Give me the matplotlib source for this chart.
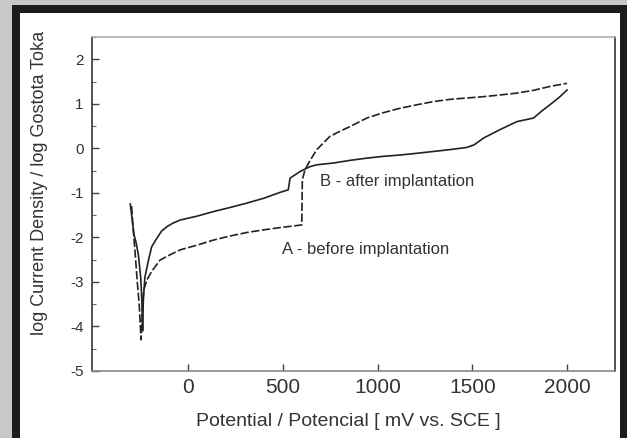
import matplotlib
matplotlib.use("Agg")
import matplotlib.pyplot as plt
from matplotlib.patches import Rectangle
from matplotlib.ticker import MultipleLocator

plt.rcParams['font.family'] = ['Liberation Sans', 'DejaVu Sans']
plt.rcParams['axes.unicode_minus'] = False

# Curve A - before implantation (mV vs SCE, log current density)
a_potential = [-298, -290, -282, -275, -268, -258, -248, -240, -235, -218, -190, -148,
               -100, -42, 50, 134, 220, 310, 400, 485, 600, 603, 617, 640, 679, 749,
               800, 855, 943, 1030, 1119, 1210, 1295, 1383, 1470, 1559, 1650, 1735,
               1820, 1910, 2000]
a_logi = [-1.3, -1.8, -2.2, -2.6, -3.0, -3.5, -4.3, -3.6, -3.2, -2.96, -2.75, -2.51,
          -2.40, -2.28, -2.17, -2.06, -1.97, -1.89, -1.83, -1.78, -1.72, -0.71, -0.48,
          -0.3, -0.03, 0.27, 0.38, 0.49, 0.68, 0.80, 0.90, 0.98, 1.05, 1.10, 1.13,
          1.16, 1.20, 1.24, 1.30, 1.39, 1.46]

# Curve B - after implantation
b_potential = [-305, -295, -285, -275, -262, -250, -244, -240, -236, -228, -209, -192,
               -165, -140, -112, -80, -42, 50, 134, 220, 310, 400, 485, 529, 538, 591,
               644, 679, 767, 855, 943, 1030, 1119, 1210, 1295, 1380, 1471, 1510, 1559,
               1646, 1735, 1790, 1823, 1870, 1910, 1960, 2000]
b_logi = [-1.25, -1.6, -1.95, -2.1, -2.4, -2.9, -3.4, -4.1, -3.4, -2.9, -2.51, -2.21,
          -2.02, -1.86, -1.76, -1.68, -1.61, -1.52, -1.42, -1.33, -1.23, -1.12, -0.99,
          -0.93, -0.67, -0.52, -0.41, -0.37, -0.33, -0.27, -0.22, -0.18, -0.15, -0.11,
          -0.07, -0.03, 0.02, 0.08, 0.23, 0.42, 0.60, 0.65, 0.68, 0.85, 0.98, 1.15, 1.31]

x_ticks = [0, 500, 1000, 1500, 2000]
x_ticklabels = ['0', '500', '1000', '1500', '2000']
y_ticks = [-5, -4, -3, -2, -1, 0, 1, 2]
y_ticklabels = ['-5', '-4', '-3', '-2', '-1', '0', '1', '2']

label_a = "A - before implantation"
label_b = "B - after implantation"
x_label = "Potential / Potencial [ mV vs. SCE ]"
y_label = "log Current Density / log Gostota Toka"

W, H = 627, 438
fig = plt.figure(figsize=(W / 100, H / 100), dpi=100)
fig.patch.set_facecolor('#c8c8c8')
fig.patches.append(Rectangle((12 / W, -0.1), 1.2, 1.1 - 5 / H, transform=fig.transFigure,
                             facecolor='#1c1c1c', edgecolor='none', zorder=-10))
fig.patches.append(Rectangle((20 / W, -0.1), 600 / W, 1.1 - 13 / H, transform=fig.transFigure,
                             facecolor='white', edgecolor='none', zorder=-9))

ax = fig.add_axes([92 / W, (H - 371) / H, (615 - 92) / W, (371 - 37) / H])
ax.set_facecolor('white')

line_col = '#222222'
ax.plot(a_potential, a_logi, color=line_col, lw=1.2, linestyle=(0, (5, 1.5)))
ax.plot(b_potential, b_logi, color=line_col, lw=1.2)

ax.set_xlim(-507, 2253)
ax.set_ylim(-5, 2.5)
ax.set_xticks(x_ticks)
ax.set_xticklabels(x_ticklabels, fontsize=15, color='#333333')
ax.set_yticks(y_ticks)
ax.set_yticklabels(y_ticklabels, fontsize=11, color='#333333')
ax.yaxis.set_minor_locator(MultipleLocator(0.5))
ax.tick_params(axis='both', which='major', direction='in', length=5, width=1, color='#444444')
ax.tick_params(axis='y', which='minor', direction='in', length=3, width=0.8, color='#666666')
ax.tick_params(axis='x', which='major', pad=5)
ax.tick_params(axis='y', which='major', pad=6)

ax.spines['left'].set_color('#333333')
ax.spines['right'].set_color('#333333')
ax.spines['top'].set_color('#b0b0b0')
ax.spines['bottom'].set_color('#888888')
for s in ax.spines.values():
    s.set_linewidth(1.2)

ax.set_xlabel(x_label, fontsize=14, color='#333333')
ax.xaxis.set_label_coords((348 - 92) / 523, (371 - 422) / 334)
ax.xaxis.label.set_va('center')
ax.set_ylabel(y_label, fontsize=13, color='#333333')
ax.yaxis.set_label_coords((40 - 92) / 523, (371 - 183) / 334)
ax.yaxis.label.set_va('center')

ax.text(697, -0.75, label_b, fontsize=12, color='#333333', ha='left', va='center')
ax.text(496, -2.28, label_a, fontsize=12, color='#333333', ha='left', va='center')

fig.savefig('out.png', dpi=100, facecolor=fig.get_facecolor())
